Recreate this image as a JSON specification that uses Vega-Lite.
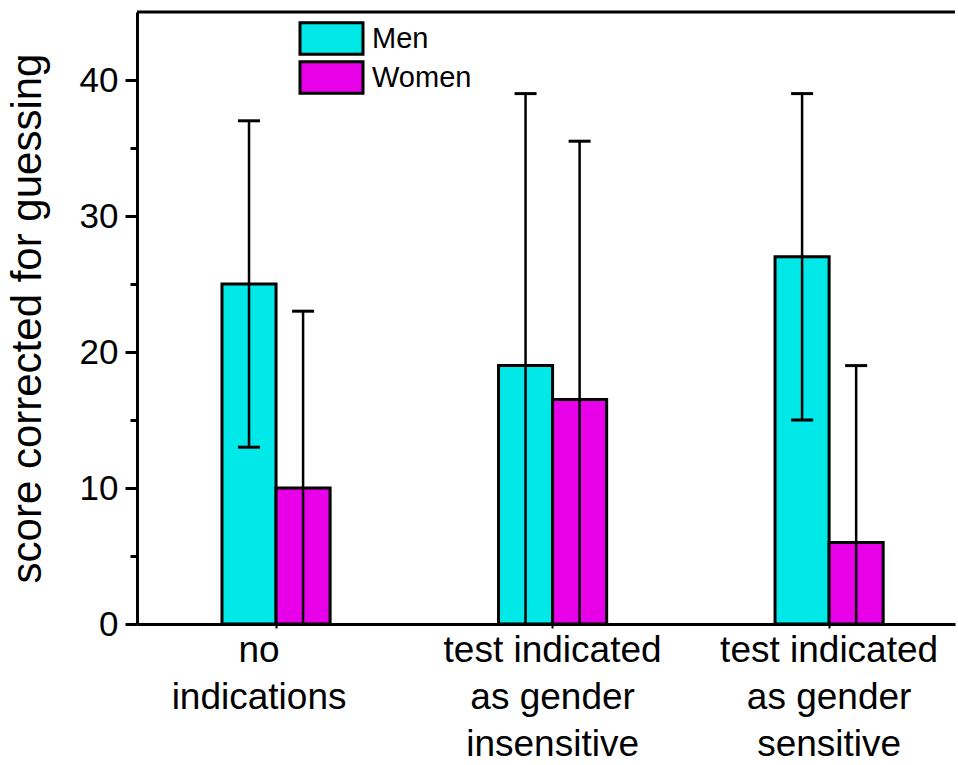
{
  "$schema": "https://vega.github.io/schema/vega-lite/v6.json",
  "width": 818,
  "height": 612,
  "autosize": {"type": "none"},
  "padding": {"left": 137, "top": 12, "right": 3, "bottom": 141},
  "background": "white",
  "config": {
    "view": {"stroke": null},
    "font": "Liberation Sans",
    "axis": {"labelFont": "Liberation Sans", "titleFont": "Liberation Sans", "labelColor": "black", "titleColor": "black", "domainColor": "black", "tickColor": "black", "grid": false, "titleFontWeight": "normal"},
    "legend": {"labelFont": "Liberation Sans", "labelColor": "black"}
  },
  "datasets": {
    "bars": [
      {"cat": "no indications", "gender": "Men", "score": 25, "lo": 13, "hi": 37},
      {"cat": "no indications", "gender": "Women", "score": 10, "lo": 0, "hi": 23},
      {"cat": "test indicated as gender insensitive", "gender": "Men", "score": 19, "lo": 0, "hi": 39},
      {"cat": "test indicated as gender insensitive", "gender": "Women", "score": 16.5, "lo": 0, "hi": 35.5},
      {"cat": "test indicated as gender sensitive", "gender": "Men", "score": 27, "lo": 15, "hi": 39},
      {"cat": "test indicated as gender sensitive", "gender": "Women", "score": 6, "lo": 0, "hi": 19}
    ],
    "caps": [
      {"cat": "no indications", "gender": "Men", "cap": 37},
      {"cat": "no indications", "gender": "Men", "cap": 13},
      {"cat": "no indications", "gender": "Women", "cap": 23},
      {"cat": "test indicated as gender insensitive", "gender": "Men", "cap": 39},
      {"cat": "test indicated as gender insensitive", "gender": "Women", "cap": 35.5},
      {"cat": "test indicated as gender sensitive", "gender": "Men", "cap": 39},
      {"cat": "test indicated as gender sensitive", "gender": "Men", "cap": 15},
      {"cat": "test indicated as gender sensitive", "gender": "Women", "cap": 19}
    ],
    "frame": [{"top": 45}]
  },
  "layer": [
    {
      "data": {"name": "bars"},
      "mark": {"type": "bar", "stroke": "black", "strokeWidth": 3},
      "encoding": {
        "x": {
          "field": "cat", "type": "nominal",
          "sort": ["no indications", "test indicated as gender insensitive", "test indicated as gender sensitive"],
          "scale": {"type": "band", "paddingInner": 0.609, "paddingOuter": 0.2835, "align": 0.542},
          "axis": {
            "title": null, "labelAngle": 0, "labelFontSize": 37, "labelLineHeight": 47, "labelLimit": 0,
            "labelPadding": 4, "domainWidth": 3, "tickSize": 4, "tickWidth": 2,
            "labelOffset": {"condition": {"test": "datum.value == 'no indications'", "value": -17}, "value": 0},
            "labelExpr": "datum.value == 'no indications' ? ['no', 'indications'] : datum.value == 'test indicated as gender insensitive' ? ['test indicated', 'as gender', 'insensitive'] : ['test indicated', 'as gender', 'sensitive']"
          }
        },
        "xOffset": {"field": "gender", "type": "nominal", "sort": ["Men", "Women"], "scale": {"paddingInner": 0, "paddingOuter": 0}},
        "y": {
          "field": "score", "type": "quantitative",
          "scale": {"domain": [0, 45], "nice": false},
          "axis": {
            "title": "score corrected for guessing", "titleFontSize": 42, "titlePadding": 30,
            "values": [0, 5, 10, 15, 20, 25, 30, 35, 40],
            "labelExpr": "datum.value % 10 == 0 ? datum.label : ''",
            "labelFontSize": 35, "labelPadding": 7, "domainWidth": 3, "tickWidth": 3,
            "tickSize": {"condition": {"test": "datum.value % 10 == 0", "value": 12}, "value": 7}
          }
        },
        "fill": {
          "field": "gender", "type": "nominal",
          "scale": {"domain": ["Men", "Women"], "range": ["#00E8E8", "#E800E8"]},
          "legend": {
            "title": null, "orient": "none", "legendX": 178, "legendY": 10, "padding": 0,
            "symbolType": "M-2.1,-1.05H2.1V1.05H-2.1Z", "symbolSize": 900,
            "symbolStrokeColor": "black", "symbolStrokeWidth": 3,
            "labelFontSize": 29, "labelOffset": 24, "rowPadding": -13
          }
        }
      }
    },
    {
      "data": {"name": "bars"},
      "mark": {"type": "rule", "color": "black", "strokeWidth": 2.5},
      "encoding": {
        "x": {"field": "cat", "type": "nominal"},
        "xOffset": {"field": "gender", "type": "nominal"},
        "y": {"field": "lo", "type": "quantitative"},
        "y2": {"field": "hi"}
      }
    },
    {
      "data": {"name": "caps"},
      "mark": {"type": "tick", "color": "black", "thickness": 3, "size": 22, "opacity": 1},
      "encoding": {
        "x": {"field": "cat", "type": "nominal"},
        "xOffset": {"field": "gender", "type": "nominal"},
        "y": {"field": "cap", "type": "quantitative"}
      }
    },
    {
      "data": {"name": "frame"},
      "mark": {"type": "rule", "color": "black", "strokeWidth": 3},
      "encoding": {"y": {"field": "top", "type": "quantitative"}}
    }
  ]
}
